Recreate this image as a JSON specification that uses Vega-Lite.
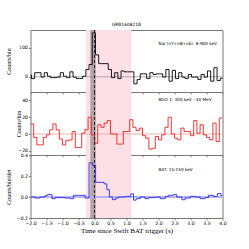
{
"$schema": "https://vega.github.io/schema/vega-lite/v6.json",
"padding": {"left": 4.5, "top": 21, "right": 0, "bottom": 0},
"bounds": "flush",
"spacing": 0,
"config": {
 "view": {"stroke": "#777", "strokeWidth": 1},
 "axis": {"grid": false, "domain": false, "tickColor": "#555", "tickSize": 2, "tickWidth": 0.7, "labelFont": "DejaVu Sans", "labelFontSize": 4.6, "labelColor": "black", "labelPadding": 1, "labelFlush": false, "titleFont": "Liberation Serif", "titleFontWeight": "normal", "titleColor": "black"},
 "title": {"font": "DejaVu Sans", "fontSize": 4.4, "fontWeight": "normal", "color": "black", "offset": 2}
},
"datasets": {
 "pink": [{"t0": -0.27, "t1": 1.15}],
 "gray": [{"t0": -0.13, "t1": 0.04}],
 "trig": [{"t": 0}],
 "nai": [
  {"t": -2.07, "c": 6}, {"t": -1.97, "c": -6}, {"t": -1.87, "c": 14}, {"t": -1.77, "c": 14}, {"t": -1.67, "c": -1}, {"t": -1.57, "c": 14}, {"t": -1.47, "c": 2}, {"t": -1.37, "c": -3}, {"t": -1.27, "c": -3}, {"t": -1.17, "c": -1},
  {"t": -1.07, "c": 14}, {"t": -0.97, "c": 2}, {"t": -0.87, "c": -3}, {"t": -0.77, "c": 17}, {"t": -0.67, "c": -1}, {"t": -0.57, "c": -6}, {"t": -0.47, "c": -6}, {"t": -0.37, "c": 2}, {"t": -0.27, "c": 25}, {"t": -0.17, "c": 42},
  {"t": -0.07, "c": 150}, {"t": 0.03, "c": 75}, {"t": 0.13, "c": 45}, {"t": 0.23, "c": 45}, {"t": 0.33, "c": 45}, {"t": 0.43, "c": 25}, {"t": 0.53, "c": -3}, {"t": 0.63, "c": 14}, {"t": 0.73, "c": -6}, {"t": 0.83, "c": 20},
  {"t": 0.93, "c": 17}, {"t": 1.03, "c": 17}, {"t": 1.13, "c": 17}, {"t": 1.23, "c": -24}, {"t": 1.33, "c": -9}, {"t": 1.43, "c": 10}, {"t": 1.53, "c": 10}, {"t": 1.63, "c": -6}, {"t": 1.73, "c": 14}, {"t": 1.83, "c": 8},
  {"t": 1.93, "c": 10}, {"t": 2.03, "c": 10}, {"t": 2.13, "c": -1}, {"t": 2.23, "c": 25}, {"t": 2.33, "c": -15}, {"t": 2.43, "c": 22}, {"t": 2.53, "c": -6}, {"t": 2.63, "c": 14}, {"t": 2.73, "c": -1}, {"t": 2.83, "c": -6},
  {"t": 2.93, "c": 8}, {"t": 3.03, "c": -1}, {"t": 3.13, "c": -1}, {"t": 3.23, "c": -9}, {"t": 3.33, "c": 8}, {"t": 3.43, "c": -1}, {"t": 3.53, "c": 20}, {"t": 3.63, "c": -15}, {"t": 3.73, "c": 31}, {"t": 3.83, "c": -13},
  {"t": 3.93, "c": -5}, {"t": 4.03, "c": -5}
 ],
 "bgo": [
  {"t": -2.0, "c": 12}, {"t": -1.9, "c": -4}, {"t": -1.8, "c": -13}, {"t": -1.7, "c": -13}, {"t": -1.6, "c": -4}, {"t": -1.5, "c": -1}, {"t": -1.4, "c": 5}, {"t": -1.3, "c": 12}, {"t": -1.2, "c": 5}, {"t": -1.1, "c": -6},
  {"t": -1.0, "c": -13}, {"t": -0.9, "c": -8}, {"t": -0.8, "c": -7}, {"t": -0.7, "c": 3}, {"t": -0.6, "c": -16}, {"t": -0.5, "c": -16}, {"t": -0.4, "c": 1}, {"t": -0.3, "c": 5}, {"t": -0.2, "c": 20}, {"t": -0.1, "c": -1},
  {"t": 0.0, "c": -11}, {"t": 0.1, "c": 11}, {"t": 0.2, "c": 8}, {"t": 0.3, "c": 13}, {"t": 0.4, "c": 16}, {"t": 0.5, "c": 0}, {"t": 0.6, "c": 0}, {"t": 0.7, "c": -12}, {"t": 0.8, "c": -12}, {"t": 0.9, "c": 3},
  {"t": 1.0, "c": 3}, {"t": 1.1, "c": 17}, {"t": 1.2, "c": 8}, {"t": 1.3, "c": 4}, {"t": 1.4, "c": 7}, {"t": 1.5, "c": -2}, {"t": 1.6, "c": -5}, {"t": 1.7, "c": -18}, {"t": 1.8, "c": -17}, {"t": 1.9, "c": -3},
  {"t": 2.0, "c": -7}, {"t": 2.1, "c": -1}, {"t": 2.2, "c": 8}, {"t": 2.3, "c": 20}, {"t": 2.4, "c": 0}, {"t": 2.5, "c": -5}, {"t": 2.6, "c": -7}, {"t": 2.7, "c": 7}, {"t": 2.8, "c": 3}, {"t": 2.9, "c": 3},
  {"t": 3.0, "c": -2}, {"t": 3.1, "c": 16}, {"t": 3.2, "c": 1}, {"t": 3.3, "c": 11}, {"t": 3.4, "c": -1}, {"t": 3.5, "c": -4}, {"t": 3.6, "c": -7}, {"t": 3.7, "c": 13}, {"t": 3.8, "c": -9}, {"t": 3.9, "c": 19},
  {"t": 4.0, "c": 19}
 ],
 "bat": [
  {"t": -2.0, "c": 0}, {"t": -1.854, "c": -0.01}, {"t": -1.7, "c": 0}, {"t": -1.54, "c": 0.016}, {"t": -1.46, "c": 0.023}, {"t": -1.33, "c": -0.016}, {"t": -1.23, "c": -0.006}, {"t": -0.92, "c": -0.01}, {"t": -0.76, "c": -0.016}, {"t": -0.66, "c": 0.016},
  {"t": -0.5, "c": 0.016}, {"t": -0.29, "c": -0.01}, {"t": -0.17, "c": 0.325}, {"t": -0.055, "c": 0.3}, {"t": 0.035, "c": 0.14}, {"t": 0.3, "c": 0.125}, {"t": 0.385, "c": 0.07}, {"t": 0.465, "c": 0.0}, {"t": 0.56, "c": -0.025}, {"t": 0.66, "c": -0.01},
  {"t": 0.75, "c": 0.0}, {"t": 0.96, "c": 0.006}, {"t": 1.135, "c": 0.03}, {"t": 1.22, "c": -0.03}, {"t": 1.3, "c": -0.016}, {"t": 1.43, "c": 0.0}, {"t": 1.58, "c": -0.016}, {"t": 1.69, "c": -0.006}, {"t": 1.9, "c": 0.0}, {"t": 2.05, "c": -0.016},
  {"t": 2.21, "c": 0.006}, {"t": 2.31, "c": 0.016}, {"t": 2.47, "c": 0.023}, {"t": 2.57, "c": 0.0}, {"t": 2.73, "c": -0.026}, {"t": 2.83, "c": -0.01}, {"t": 2.99, "c": 0.006}, {"t": 3.15, "c": 0.0}, {"t": 3.3, "c": -0.016}, {"t": 3.46, "c": -0.006},
  {"t": 3.56, "c": 0.016}, {"t": 3.72, "c": 0.006}, {"t": 3.84, "c": 0.033}, {"t": 3.95, "c": 0.013}, {"t": 4.0, "c": 0.013}
 ]
},
"vconcat": [
 {
  "width": 192, "height": 62,
  "title": {"text": "GRB160821B"},
  "layer": [
   {"data": {"name": "pink"}, "mark": {"type": "rect", "color": "#fde0e5"},
    "encoding": {"x": {"field": "t0", "type": "quantitative", "title": null, "scale": {"domain": [-2, 4]}, "axis": {"tickCount": 12, "labels": false, "title": null}}, "x2": {"field": "t1"}}},
   {"data": {"name": "gray"}, "mark": {"type": "rect", "color": "#666", "opacity": 0.5},
    "encoding": {"x": {"field": "t0", "type": "quantitative", "title": null}, "x2": {"field": "t1"}}},
   {"data": {"name": "trig"}, "mark": {"type": "rule", "color": "#999", "strokeWidth": 0.8},
    "encoding": {"y": {"datum": 0}}},
   {"data": {"name": "nai"}, "mark": {"type": "line", "interpolate": "step-after", "color": "black", "strokeWidth": 0.9, "clip": true},
    "encoding": {"x": {"field": "t", "type": "quantitative", "title": null}, "y": {"field": "c", "type": "quantitative", "title": "Counts/bin", "scale": {"domain": [-52, 160], "nice": false}, "axis": {"tickCount": 2, "labelOverlap": false, "titleFontSize": 6, "titleFontWeight": "normal", "titleX": -19}}}},
   {"data": {"name": "trig"}, "mark": {"type": "rule", "color": "black", "strokeDash": [3, 2], "strokeWidth": 0.8},
    "encoding": {"x": {"field": "t", "type": "quantitative", "title": null}}},
   {"data": {"values": [{"label": "NaI (n7+n8+nb): 8-900 keV"}]}, "mark": {"type": "text", "align": "left", "baseline": "middle", "fontSize": 4.2, "font": "DejaVu Sans", "color": "black"},
    "encoding": {"x": {"datum": 2.0}, "y": {"datum": 113}, "text": {"field": "label"}}}
  ]
 },
 {
  "width": 192, "height": 63,
  "layer": [
   {"data": {"name": "pink"}, "mark": {"type": "rect", "color": "#fde0e5"},
    "encoding": {"x": {"field": "t0", "type": "quantitative", "title": null, "scale": {"domain": [-2, 4]}, "axis": {"tickCount": 12, "labels": false, "title": null}}, "x2": {"field": "t1"}}},
   {"data": {"name": "gray"}, "mark": {"type": "rect", "color": "#666", "opacity": 0.5},
    "encoding": {"x": {"field": "t0", "type": "quantitative", "title": null}, "x2": {"field": "t1"}}},
   {"data": {"name": "trig"}, "mark": {"type": "rule", "color": "#f4a0a0", "strokeWidth": 0.8},
    "encoding": {"y": {"datum": 0}}},
   {"data": {"name": "bgo"}, "mark": {"type": "line", "interpolate": "step-after", "color": "#f02020", "strokeWidth": 0.9, "clip": true},
    "encoding": {"x": {"field": "t", "type": "quantitative", "title": null}, "y": {"field": "c", "type": "quantitative", "title": "Counts/bin", "scale": {"domain": [-25, 50], "nice": false}, "axis": {"tickCount": 4, "labelOverlap": false, "titleFontSize": 6, "titleFontWeight": "normal", "titleX": -9}}}},
   {"data": {"name": "trig"}, "mark": {"type": "rule", "color": "black", "strokeDash": [3, 2], "strokeWidth": 0.8},
    "encoding": {"x": {"field": "t", "type": "quantitative", "title": null}}},
   {"data": {"values": [{"label": "BGO 1: 300 keV - 40 MeV"}]}, "mark": {"type": "text", "align": "left", "baseline": "middle", "fontSize": 4.2, "font": "DejaVu Sans", "color": "black"},
    "encoding": {"x": {"datum": 2.0}, "y": {"datum": 41}, "text": {"field": "label"}}}
  ]
 },
 {
  "width": 192, "height": 63,
  "layer": [
   {"data": {"name": "pink"}, "mark": {"type": "rect", "color": "#fde0e5"},
    "encoding": {"x": {"field": "t0", "type": "quantitative", "title": "Time since Swift BAT trigger (s)", "scale": {"domain": [-2, 4]}, "axis": {"tickCount": 12, "format": ".1f", "labelOverlap": false, "labelFlush": false, "labelPadding": 0.5, "titleFontSize": 7, "titleFontWeight": "normal", "titlePadding": 1}}, "x2": {"field": "t1"}}},
   {"data": {"name": "gray"}, "mark": {"type": "rect", "color": "#666", "opacity": 0.5},
    "encoding": {"x": {"field": "t0", "type": "quantitative", "title": "Time since Swift BAT trigger (s)"}, "x2": {"field": "t1"}}},
   {"data": {"name": "trig"}, "mark": {"type": "rule", "color": "#b4b4f5", "strokeWidth": 2},
    "encoding": {"y": {"datum": 0}}},
   {"data": {"name": "bat"}, "mark": {"type": "line", "interpolate": "step-after", "color": "#2828f0", "strokeWidth": 0.9, "clip": true},
    "encoding": {"x": {"field": "t", "type": "quantitative", "title": "Time since Swift BAT trigger (s)"}, "y": {"field": "c", "type": "quantitative", "title": "Counts/bin/det", "scale": {"domain": [-0.2, 0.4], "nice": false}, "axis": {"tickCount": 3, "format": ".1f", "labelOverlap": false, "titleFontSize": 6, "titleFontWeight": "normal", "titleX": -19}}}},
   {"data": {"name": "trig"}, "mark": {"type": "rule", "color": "black", "strokeDash": [3, 2], "strokeWidth": 0.8},
    "encoding": {"x": {"field": "t", "type": "quantitative", "title": "Time since Swift BAT trigger (s)"}}},
   {"data": {"values": [{"label": "BAT: 15-150 keV"}]}, "mark": {"type": "text", "align": "left", "baseline": "middle", "fontSize": 4.2, "font": "DejaVu Sans", "color": "black"},
    "encoding": {"x": {"datum": 2.0}, "y": {"datum": 0.26}, "text": {"field": "label"}}}
  ]
 }
]
}
